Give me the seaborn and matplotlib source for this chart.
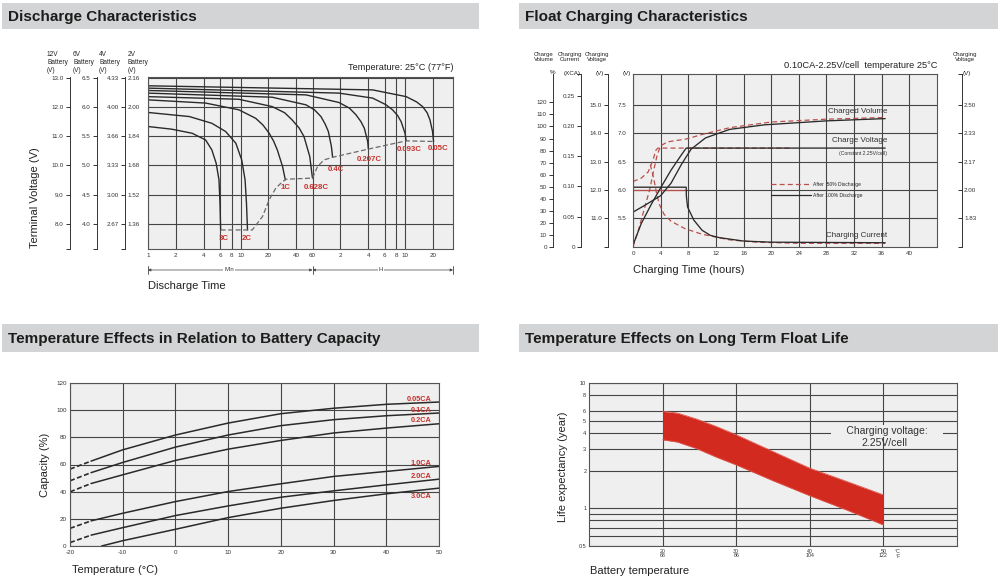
import matplotlib
matplotlib.use('Agg')
import matplotlib.pyplot as plt
import matplotlib.ticker as mticker
import matplotlib.transforms as mtrans
from matplotlib.patches import Rectangle
from matplotlib.lines import Line2D
import seaborn as sns

# ---------------- data ----------------
titles = ['Discharge Characteristics', 'Float Charging Characteristics',
          'Temperature Effects in Relation to Battery Capacity',
          'Temperature Effects on Long Term Float Life']

# discharge: time in minutes, terminal voltage of a 12V block
rates = ['3C', '2C', '1C', '0.628C', '0.4C', '0.207C', '0.093C', '0.05C']
t_3c = [1, 1.8, 3.0, 4.2, 4.9, 5.45, 5.85, 6.0, 6.1]
v_3c = [11.33, 11.24, 11.1, 10.87, 10.53, 10.08, 9.51, 8.71, 7.8]
t_2c = [1, 2.8, 4.9, 6.9, 8.9, 10.3, 11.2, 11.6, 11.9]
v_2c = [11.81, 11.67, 11.44, 11.16, 10.76, 10.19, 9.51, 8.71, 7.8]
t_1c = [1, 4.2, 9.6, 14.6, 17.5, 20.4, 22.8, 25, 28.5, 30.5]
v_1c = [12.24, 12.13, 11.9, 11.61, 11.38, 11.1, 10.83, 10.53, 9.96, 9.51]
t_0628 = [1, 9.6, 22, 30, 36, 43, 48.5, 56, 59, 60]
v_0628 = [12.35, 12.26, 12.01, 11.8, 11.56, 11.28, 10.99, 10.31, 9.74, 9.57]
t_04 = [1, 22, 51, 63, 74, 82, 89, 96, 99]
v_04 = [12.47, 12.33, 12.07, 11.9, 11.67, 11.42, 11.16, 10.65, 10.28]
t_0207 = [1, 51, 116, 150, 177, 200, 218, 237, 241]
v_0207 = [12.56, 12.41, 12.15, 11.96, 11.73, 11.5, 11.27, 10.82, 10.56]
t_0093 = [1, 116, 268, 370, 440, 500, 544, 600, 617]
v_0093 = [12.64, 12.47, 12.30, 12.08, 11.9, 11.7, 11.5, 11.1, 10.84]
t_005 = [1, 268, 617, 800, 930, 1040, 1115, 1190, 1220]
v_005 = [12.72, 12.58, 12.35, 12.17, 12.01, 11.8, 11.56, 11.16, 10.82]
t_end = [6.1, 12.5, 13.4, 17.3, 20.4, 24.1, 28.5, 31, 60, 68, 80, 99, 241, 617, 1220]
v_end = [7.8, 7.8, 7.8, 8.26, 8.83, 9.23, 9.45, 9.53, 9.57, 9.97, 10.19, 10.28, 10.56, 10.84, 10.82]
label_t = [6.6, 11.8, 31, 66, 108, 247, 673, 1350]
label_v = [7.5, 7.5, 9.24, 9.24, 9.85, 10.19, 10.53, 10.57]

volt_12v = [13, 12, 11, 10, 9, 8]
lab_12v = ['13.0', '12.0', '11.0', '10.0', '9.0', '8.0']
lab_6v = ['6.5', '6.0', '5.5', '5.0', '4.5', '4.0']
lab_4v = ['4.33', '4.00', '3.66', '3.33', '3.00', '2.67']
lab_2v = ['2.16', '2.00', '1.84', '1.68', '1.52', '1.36']
time_ticks = [1, 2, 4, 6, 8, 10, 20, 40, 60, 120, 240, 360, 480, 600, 1200]
time_labels = ['1', '2', '4', '6', '8', '10', '20', '40', '60', '2', '4', '6', '8', '10', '20']

# float charging: hours vs. value on the (V) scale
h_vol100 = [0, 1.7, 4, 5.5, 7, 8.4, 10.5, 14, 19, 28, 36.5]
v_vol100 = [5.61, 5.73, 5.9, 6.12, 6.45, 6.72, 6.92, 7.07, 7.15, 7.22, 7.26]
h_volt100 = [0, 1.2, 2.7, 4.1, 5.5, 7.0, 7.7, 36.5]
v_volt100 = [5.03, 5.41, 5.76, 6.06, 6.35, 6.62, 6.74, 6.74]
h_cur100 = [0, 7.7, 7.72, 7.9, 8.8, 10, 11.2, 12.5, 16, 20, 36.5]
v_cur100 = [6.05, 6.05, 5.9, 5.7, 5.47, 5.29, 5.2, 5.16, 5.1, 5.08, 5.07]
h_volt50 = [0, 1.2, 2.2, 2.9, 3.3, 3.6, 23]
v_volt50 = [6.15, 6.21, 6.32, 6.53, 6.7, 6.74, 6.74]
h_vol50 = [0, 0.8, 1.6, 2.4, 3.0, 3.5, 4.0, 5.0, 7.7, 10, 14, 20, 28, 36.5]
v_vol50 = [5.0, 5.3, 5.65, 6.0, 6.35, 6.62, 6.78, 6.85, 6.9, 6.98, 7.1, 7.2, 7.25, 7.28]
h_cur50 = [2.5, 3.0, 3.4, 3.8, 4.5, 5.5, 7.5, 10, 14, 18, 24, 36.5]
v_cur50 = [6.45, 6.2, 5.95, 5.75, 5.57, 5.45, 5.32, 5.22, 5.12, 5.08, 5.06, 5.06]
h_cur50_flat = [0, 7.7]
v_cur50_flat = [6.0, 6.0]
inner_v = [5.5, 6.0, 6.5, 7.0, 7.5]
inner_lab = ['5.5', '6.0', '6.5', '7.0', '7.5']
chg_volt = [11, 12, 13, 14, 15]
chg_volt_lab = ['11.0', '12.0', '13.0', '14.0', '15.0']
chg_cur = [0, 0.05, 0.10, 0.15, 0.20, 0.25]
chg_cur_lab = ['0', '0.05', '0.10', '0.15', '0.20', '0.25']
chg_vol = [0, 10, 20, 30, 40, 50, 60, 70, 80, 90, 100, 110, 120]
cell_v = [1.833, 2.0, 2.167, 2.333, 2.5]
cell_lab = ['1.83', '2.00', '2.17', '2.33', '2.50']

# capacity vs temperature
cap_temp = [-20, -16, -10, 0, 10, 20, 30, 40, 50]
cap_005 = [56.6, 62.5, 70.8, 81.7, 90.5, 97.4, 101.4, 104.3, 106.0]
cap_01 = [48.0, 54.0, 61.5, 72.8, 81.7, 88.6, 93.0, 95.9, 97.9]
cap_02 = [39.9, 46.0, 52.4, 63.0, 71.3, 77.7, 83.2, 86.8, 90.0]
cap_10 = [13.0, 18.5, 24.1, 32.7, 40.1, 45.8, 51.2, 54.9, 58.6]
cap_20 = [2.5, 8.0, 13.5, 22.4, 29.5, 35.9, 40.6, 45.0, 49.2]
cap_temp_30 = [-14, -10, 0, 10, 20, 30, 40, 50]
cap_30 = [0, 3.9, 12.3, 20.9, 27.8, 33.5, 38.4, 42.6]
cap_names = ['0.05CA', '0.1CA', '0.2CA', '1.0CA', '2.0CA', '3.0CA']
cap_label_y = [108.2, 100.1, 92.2, 60.9, 51.0, 36.3]

# float life
life_temp = [20, 22, 24.6, 27.3, 30, 35, 40, 45, 50]
life_upper = [5.94, 5.76, 5.16, 4.5, 3.86, 2.84, 2.09, 1.64, 1.28]
life_lower = [3.52, 3.38, 3.0, 2.56, 2.22, 1.66, 1.26, 0.97, 0.736]
life_ticks = [0.5, 1, 2, 3, 4, 5, 6, 8, 10]
life_labels = ['0.5', '1', '2', '3', '4', '5', '6', '8', '10']
life_xticks = [20, 30, 40, 50]
life_xlabels = ['20\n68', '30\n86', '40\n104', '50\n122']

# ---------------- style ----------------
sns.set_style('white')
plt.rcParams['font.family'] = ['Liberation Sans', 'DejaVu Sans']
plt.rcParams['axes.unicode_minus'] = False

W, H = 1000, 579
BG = '#efefef'
GRID = '#454545'
RED = '#c8302a'
DRED = '#b9504c'
INK = '#2a2a2a'

fig = plt.figure(figsize=(10, 5.79), dpi=100)


def px_axes(x0, y0, x1, y1):
    return fig.add_axes([x0 / W, 1 - y1 / H, (x1 - x0) / W, (y1 - y0) / H])


def fig_text(x, y, s, **kw):
    kw.setdefault('color', '#222222')
    return fig.text(x / W, 1 - y / H, s, **kw)


def style_box(ax):
    ax.set_facecolor(BG)
    for sp in ax.spines.values():
        sp.set_visible(True)
        sp.set_color('#555555')
        sp.set_linewidth(0.8)
    ax.grid(True, color=GRID, lw=0.8)
    ax.set_axisbelow(True)
    ax.tick_params(length=0, labelsize=4.5, colors='#333333', pad=3)


def bracket(ax, loc, ticks, labels, functions=None, right=False):
    sec = ax.secondary_yaxis(loc, functions=functions)
    sec.set_yticks(ticks, labels)
    sec.tick_params(length=3, width=0.7, labelsize=4.5, pad=1.5, colors='#333333',
                    direction='in' if right else 'out')
    for sp in sec.spines.values():
        sp.set_linewidth(0.7)
        sp.set_color('#333333')
    return sec


# header bars
bars = [(2, 3, 479, 29), (519, 3, 998, 29), (2, 324, 479, 352), (519, 324, 998, 352)]
for (x0, y0, x1, y1), title in zip(bars, titles):
    fig.add_artist(Rectangle((x0 / W, 1 - y1 / H), (x1 - x0) / W, (y1 - y0) / H,
                             transform=fig.transFigure, facecolor='#d3d4d5', edgecolor='none'))
    fig_text(x0 + 6, (y0 + y1) / 2 + 0.5, title, fontsize=11, fontweight='bold',
             va='center', color='#1c1c1c')

# ---------------- discharge ----------------
ax1 = px_axes(148, 77, 453, 249)
style_box(ax1)
curves = [(t_3c, v_3c), (t_2c, v_2c), (t_1c, v_1c), (t_0628, v_0628),
          (t_04, v_04), (t_0207, v_0207), (t_0093, v_0093), (t_005, v_005)]
for t, v in curves:
    sns.lineplot(x=t, y=v, ax=ax1, color=INK, lw=1.0, sort=False)
sns.lineplot(x=t_end, y=v_end, ax=ax1, color='#6a6a6a', lw=0.9, sort=False,
             linestyle=(0, (4, 2)))
ax1.set_xscale('log')
ax1.set_xlim(1, 1980)
ax1.set_ylim(7.15, 13.02)
ax1.set_xticks(time_ticks, time_labels)
ax1.xaxis.set_minor_locator(mticker.NullLocator())
ax1.set_yticks(volt_12v, lab_2v)
ax1.tick_params(axis='y', pad=6)
for name, x, y in zip(rates, label_t, label_v):
    ax1.text(x, y, name, ha='center', va='center', fontsize=5.6, fontweight='bold', color=RED)

bracket(ax1, -0.256, volt_12v + [7.15], lab_12v + [''])
bracket(ax1, -0.167, volt_12v + [7.15], lab_6v + [''])
bracket(ax1, -0.075, volt_12v + [7.15], lab_4v + [''])

for x, s in [(47, '12V'), (73, '6V'), (99, '4V'), (128, '2V')]:
    fig_text(x, 62.5, s + '\nBattery\n(V)', fontsize=4.7, va='center', ha='left', linespacing=1.15)
fig_text(453, 68, 'Temperature: 25°C (77°F)', ha='right', va='center', fontsize=6.6)
fig_text(148, 286, 'Discharge Time', fontsize=8, va='center')
fig_text(35, 198, 'Terminal Voltage (V)', fontsize=8, rotation=90, va='center', ha='center')

# Min / H arrows under the time axis
tr = mtrans.blended_transform_factory(ax1.transData, ax1.transAxes)
yarr = -0.122
for a, b, s, xm in [(1, 60, 'Min', 7.5), (60, 1980, 'H', 331)]:
    ax1.annotate('', xy=(a, yarr), xytext=(b, yarr), xycoords=tr, textcoords=tr,
                 arrowprops=dict(arrowstyle='<|-|>', lw=0.5, color='#444444',
                                 mutation_scale=4, shrinkA=0, shrinkB=0))
    ax1.text(xm, yarr, s, transform=tr, ha='center', va='center', fontsize=4.3,
             color='#333333', bbox=dict(facecolor='white', edgecolor='none', pad=0.6))
for xb in [1, 60, 1980]:
    ax1.plot([xb, xb], [yarr - 0.025, yarr + 0.025], transform=tr, color='#444444',
             lw=0.6, clip_on=False)

# ---------------- float charging ----------------
ax2 = px_axes(633, 74, 937, 247)
style_box(ax2)
sns.lineplot(x=h_cur50_flat, y=v_cur50_flat, ax=ax2, color=DRED, lw=0.9, sort=False)
for h, v in [(h_volt50, v_volt50), (h_vol50, v_vol50), (h_cur50, v_cur50)]:
    sns.lineplot(x=h, y=v, ax=ax2, color=DRED, lw=0.9, sort=False, linestyle=(0, (4, 2.5)))
for h, v in [(h_vol100, v_vol100), (h_volt100, v_volt100), (h_cur100, v_cur100)]:
    sns.lineplot(x=h, y=v, ax=ax2, color=INK, lw=0.95, sort=False)
ax2.set_xlim(0, 44)
ax2.set_ylim(4.995, 8.047)
ax2.set_xticks(range(0, 41, 4))
ax2.set_yticks(inner_v, inner_lab)
ax2.tick_params(axis='y', pad=5)

bracket(ax2, -0.082, [9.99] + chg_volt + [16.09], [''] + chg_volt_lab + [''],
        functions=(lambda v: 2 * v, lambda u: u / 2))
bracket(ax2, -0.171, chg_cur + [0.286], chg_cur_lab + [''],
        functions=(lambda v: (v - 5) / 10.64, lambda c: 5 + c * 10.64))
bracket(ax2, -0.263, chg_vol + [143.7], [str(p) for p in chg_vol] + [''],
        functions=(lambda v: (v - 5) * 47.15, lambda p: 5 + p / 47.15))
bracket(ax2, 1.082, [1.665] + cell_v + [2.682], [''] + cell_lab + [''],
        functions=(lambda v: v / 3, lambda u: 3 * u), right=True)

for x, s in [(544, 'Charge\nVolume'), (569.5, 'Charging\nCurrent'), (597, 'Charging\nVoltage'),
             (965, 'Charging\nVoltage')]:
    fig_text(x, 57, s, fontsize=4.3, ha='center', va='center', linespacing=1.1)
for x, s in [(553, '%'), (572, '(XCA)'), (600, '(V)'), (627, '(V)'), (967, '(V)')]:
    fig_text(x, 73, s, fontsize=4.5, ha='center', va='center')

ax2.text(36.8, 7.38, 'Charged Volume', ha='right', va='center', fontsize=5.8, color='#333333')
ax2.text(36.8, 6.87, 'Charge Voltage', ha='right', va='center', fontsize=5.8, color='#333333')
ax2.text(36.8, 6.64, '(Constant 2.25V/cell)', ha='right', va='center', fontsize=3.7,
         color='#333333')
ax2.text(36.8, 5.19, 'Charging Current', ha='right', va='center', fontsize=5.8, color='#333333')
handles = [Line2D([], [], color=DRED, lw=0.9, linestyle=(0, (4, 2.5))),
           Line2D([], [], color=INK, lw=0.9)]
ax2.legend(handles, ['After  50% Discharge', 'After 100% Discharge'], loc='upper left',
           bbox_to_anchor=(0.455, 0.375), frameon=False, fontsize=3.6, handlelength=8,
           handletextpad=0.4, labelspacing=1.1, borderpad=0, borderaxespad=0)
fig_text(938, 65, '0.10CA-2.25V/cell  temperature 25°C', ha='right', va='center', fontsize=6.7)
fig_text(633, 270, 'Charging Time (hours)', fontsize=8, va='center')

# ---------------- capacity vs temperature ----------------
ax3 = px_axes(70, 383, 439, 546)
style_box(ax3)
for vals in [cap_005, cap_01, cap_02, cap_10, cap_20]:
    sns.lineplot(x=cap_temp[:2], y=vals[:2], ax=ax3, color=INK, lw=1.2, sort=False,
                 linestyle=(0, (3, 1.5)))
    sns.lineplot(x=cap_temp[1:], y=vals[1:], ax=ax3, color=INK, lw=1.1, sort=False)
sns.lineplot(x=cap_temp_30, y=cap_30, ax=ax3, color=INK, lw=1.1, sort=False)
ax3.set_xlim(-20, 50)
ax3.set_ylim(0, 120)
ax3.set_xticks(range(-20, 51, 10))
ax3.set_yticks(range(0, 121, 20))
ax3.tick_params(axis='y', pad=2.5)
for name, y in zip(cap_names, cap_label_y):
    ax3.text(48.6, y, name, ha='right', va='center', fontsize=5.3, fontweight='bold', color=RED)
fig_text(45, 465, 'Capacity (%)', fontsize=8, rotation=90, va='center', ha='center')
fig_text(72, 570, 'Temperature (°C)', fontsize=8, va='center')

# ---------------- float life ----------------
ax4 = px_axes(589, 383, 957, 546)
style_box(ax4)
ax4.fill_between(life_temp, life_lower, life_upper, color='#d22a1f', lw=0)
sns.lineplot(x=life_temp, y=life_upper, ax=ax4, color='#e0584e', lw=0.6, sort=False)
sns.lineplot(x=life_temp, y=life_lower, ax=ax4, color='#e0584e', lw=0.6, sort=False)
ax4.set_yscale('log')
ax4.set_ylim(0.5, 10)
ax4.set_xlim(10, 60)
ax4.set_yticks(life_ticks, life_labels)
ax4.yaxis.set_minor_locator(mticker.FixedLocator([0.6, 0.7, 0.8, 0.9]))
ax4.yaxis.set_minor_formatter(mticker.NullFormatter())
ax4.grid(True, which='minor', axis='y', color=GRID, lw=0.8)
ax4.tick_params(which='both', length=0)
ax4.tick_params(axis='y', labelsize=4, pad=2)
ax4.set_xticks(life_xticks, life_xlabels)
ax4.tick_params(axis='x', labelsize=3.8, pad=2)
for lab in ax4.get_xticklabels():
    lab.set_linespacing(0.9)
tr4 = mtrans.blended_transform_factory(ax4.transData, ax4.transAxes)
ax4.text(52, -0.02, '°C\n°F', transform=tr4, ha='center', va='top', fontsize=3.8,
         linespacing=0.9, color='#333333')
ax4.text(0.81, 0.706, '     Charging voltage:     ', transform=ax4.transAxes, ha='center',
         va='center', fontsize=7.5, color='#333333',
         bbox=dict(facecolor=BG, edgecolor='none', pad=0.5))
ax4.text(0.804, 0.634, '2.25V/cell', transform=ax4.transAxes, ha='center', va='center',
         fontsize=7.5, color='#333333')
fig_text(563, 467, 'Life expectancy (year)', fontsize=8, rotation=90, va='center', ha='center')
fig_text(590, 571, 'Battery temperature', fontsize=8, va='center')

fig.savefig('out.png', dpi=100, facecolor='white')
